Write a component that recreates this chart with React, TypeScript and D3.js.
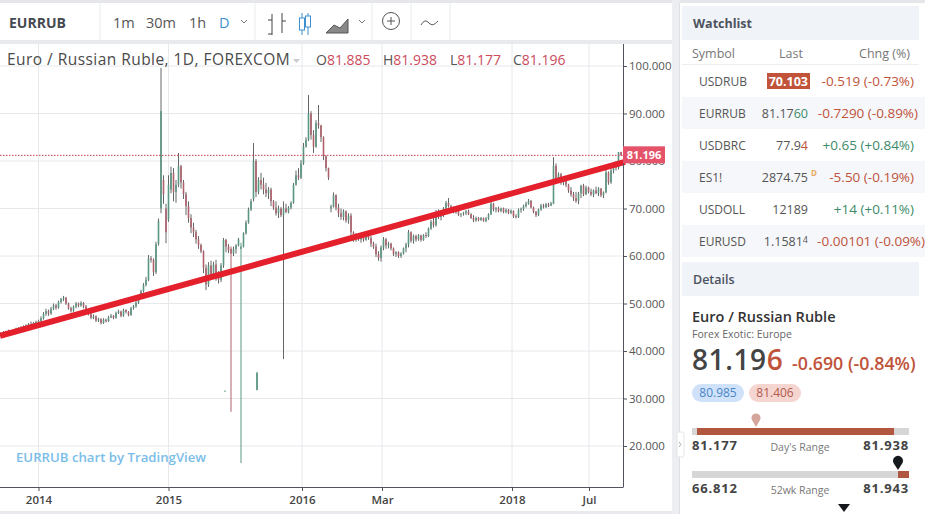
import React, { useEffect, useRef } from 'react';
import * as d3 from 'd3';

type Bar = [number, number, number, number]; // open, high, low, close

const bars2013: Bar[] = [
  [43.6,44.0,43.3,43.8],[43.8,44.2,43.5,43.6],[43.6,44.3,43.4,44.1],[44.1,44.5,43.8,44.0],[44.0,44.4,43.7,44.3],
  [44.3,44.6,43.9,44.2],[44.2,44.9,44.0,44.7],[44.7,45.0,44.3,44.5],[44.5,45.2,44.3,45.0],[45.0,45.4,44.6,44.8],
  [44.8,45.6,44.6,45.4],[45.4,45.9,45.1,45.7],[45.7,46.2,45.3,45.5],[45.5,46.1,45.2,45.9],[45.9,46.4,45.6,46.1],
];
const bars2014: Bar[] = [
  [46.1,46.6,45.8,46.3],[46.3,47.3,46.0,46.9],[46.9,48.2,46.6,47.8],[47.8,48.9,47.4,48.4],[48.4,48.7,47.4,47.9],
  [47.9,49.3,47.6,48.9],[48.9,50.0,48.6,49.6],[49.6,49.9,48.7,49.1],[49.1,50.6,48.9,50.3],[50.3,51.2,50.0,50.9],
  [50.9,51.6,50.5,51.2],[51.2,51.4,49.7,50.0],[50.0,50.2,48.7,49.0],[49.0,49.3,48.1,48.5],[48.5,49.6,48.2,49.3],
  [49.3,50.3,49.0,50.0],[50.0,50.2,49.2,49.6],[49.6,50.5,49.3,50.1],[50.1,50.3,49.0,49.4],[49.4,49.7,48.2,48.5],
  [48.5,48.7,47.5,47.9],[47.9,48.1,46.7,47.0],[47.0,47.7,46.7,47.3],[47.3,47.5,46.1,46.4],[46.4,47.0,46.1,46.7],
  [46.7,46.9,45.6,45.9],[45.9,46.9,45.7,46.6],[46.6,46.8,46.0,46.3],[46.3,47.4,46.1,47.1],[47.1,47.8,46.9,47.4],
  [47.4,47.6,46.7,47.0],[47.0,48.3,46.8,48.0],[48.0,48.7,47.8,48.3],[48.3,48.5,47.1,47.4],[47.4,48.9,47.2,48.6],
  [48.6,48.8,47.9,48.2],[48.2,48.4,47.3,47.6],[47.6,49.3,47.4,49.0],[49.0,49.7,48.7,49.4],[49.4,50.5,49.1,50.2],
  [50.2,51.7,49.9,51.4],[51.4,52.9,51.1,52.6],[52.6,54.3,52.3,53.9],[53.9,55.6,53.6,55.0],[55.0,60.2,54.7,59.5],
  [59.5,60.0,58.6,59.2],[59.2,59.5,55.8,56.6],[56.6,63.0,56.2,62.5],[62.5,67.9,62.2,67.4],[70.0,99.6,69.0,90.5],
  [76.0,77.0,71.0,73.0],[70.0,71.0,62.7,65.0],
];
const bars2015: Bar[] = [
  [67.6,77.0,67.2,75.0],[74.0,78.8,73.2,77.5],[77.5,78.5,71.5,73.5],[73.5,76.0,71.2,75.0],[75.0,81.7,74.5,78.9],
  [78.9,79.2,74.2,75.5],[75.5,76.0,72.0,73.0],[73.0,73.5,68.6,70.5],[70.5,71.5,67.0,68.0],[68.0,68.8,64.8,66.0],
  [66.0,67.0,64.0,65.0],[65.0,65.5,62.6,63.5],[63.5,64.2,61.5,62.3],[62.3,62.6,60.6,61.0],[61.0,61.2,56.4,57.5],
  [57.5,58.2,52.8,54.0],[54.0,58.7,53.5,58.0],[58.0,59.0,55.0,56.0],[56.0,58.8,55.5,58.2],[58.2,59.2,54.8,55.5],
  [55.5,56.8,54.2,55.0],[55.0,58.5,54.5,58.0],[58.0,63.8,57.5,63.4],[63.4,63.6,60.8,62.0],[62.0,62.5,60.6,61.2],
  [61.5,62.0,27.2,60.5],[60.5,62.0,60.0,61.5],[61.5,62.5,60.5,62.2],[62.2,63.8,62.0,63.5],[61.5,62.8,16.4,62.0],
  [62.0,65.0,61.8,64.8],[64.8,67.5,64.5,67.0],[67.0,70.2,66.8,69.8],[69.8,72.0,69.5,71.5],[72.0,83.8,71.5,80.0],
  [80.0,80.4,72.4,73.5],[73.5,76.6,73.0,76.0],[76.0,77.5,74.0,75.0],[75.0,76.5,73.0,74.0],[74.0,75.4,72.4,73.2],
  [73.2,74.5,72.0,74.0],[74.0,74.4,70.5,71.5],[71.5,71.8,69.7,70.2],[70.2,71.5,68.5,69.0],[69.0,70.6,68.0,70.0],
  [70.0,70.3,68.2,68.6],[68.6,71.5,38.3,70.0],[70.0,71.0,69.0,69.3],[69.3,70.5,69.0,70.2],[70.2,71.5,69.8,71.2],
  [71.2,75.4,71.0,75.0],[75.0,78.0,74.8,77.0],[77.0,78.5,76.0,76.5],[76.5,80.2,76.2,79.5],
];
const bars2016: Bar[] = [
  [79.5,83.8,79.2,83.0],[83.0,85.0,82.8,84.5],[84.5,93.9,84.2,90.0],[90.0,90.5,84.5,85.5],[85.5,86.5,81.7,83.0],
  [83.0,88.6,82.8,88.0],[88.0,91.8,86.8,87.5],[87.5,87.6,84.0,85.0],[85.0,85.2,80.2,81.0],[81.0,81.2,77.8,78.5],
  [78.5,78.6,76.0,76.5],[70.0,70.8,69.2,70.4],[70.4,73.4,70.2,72.8],[72.8,73.0,69.6,70.2],[70.2,71.0,68.2,69.0],
  [69.0,70.0,67.6,68.2],[68.2,69.8,67.5,69.4],[69.4,69.6,67.0,67.5],[67.5,69.0,66.8,68.5],[68.5,69.0,64.0,65.0],
  [65.0,65.2,63.0,63.6],[63.6,64.8,63.0,64.2],[64.2,64.5,63.2,63.5],[63.5,64.6,62.8,64.0],[64.0,64.5,63.0,63.4],
  [63.4,64.8,63.2,64.5],[64.5,64.9,63.4,63.8],[63.8,64.2,61.9,62.6],[62.6,63.0,61.5,62.0],[62.0,62.6,59.8,60.4],
  [60.4,61.0,59.0,59.6],[59.6,62.2,58.8,61.8],
];
const bars2017: Bar[] = [
  [61.8,64.0,61.2,63.5],[63.5,63.8,61.5,62.2],[62.2,63.0,61.6,62.6],[62.6,62.8,61.2,61.6],[61.6,61.8,60.0,60.4],
  [60.4,61.0,59.8,60.8],[60.8,61.0,59.6,60.0],[60.0,60.8,59.6,60.5],[60.5,61.8,60.3,61.6],[61.6,62.8,60.8,62.4],
  [62.4,65.5,61.8,65.0],[65.0,65.2,62.8,63.2],[63.2,64.5,62.6,64.2],[64.2,64.5,63.0,63.5],[63.5,64.6,63.2,64.3],
  [64.3,64.5,63.0,63.4],[63.4,64.6,63.2,64.4],[64.4,65.0,63.8,64.2],[64.2,66.0,64.0,65.8],[65.8,67.6,65.5,67.2],
  [67.2,68.4,66.0,66.5],[66.5,69.7,66.2,69.2],[69.2,69.8,67.8,68.2],[68.2,69.6,67.5,69.3],[69.3,70.3,68.2,70.0],
  [70.0,71.6,69.6,71.2],[71.2,72.2,70.2,70.5],[70.5,70.8,69.8,70.1],[70.1,70.4,69.0,69.2],[69.2,70.0,68.9,69.8],
  [69.8,70.0,68.4,68.7],[68.7,69.0,68.2,68.9],[68.9,69.3,68.5,69.1],[69.1,69.7,68.6,69.4],[69.4,69.8,68.6,68.8],
  [68.8,69.0,67.8,68.0],[68.0,68.6,67.1,67.5],[67.5,68.3,67.2,68.0],[68.0,68.2,67.3,67.6],[67.6,68.2,67.4,68.0],
  [68.0,68.1,67.2,67.4],[67.4,68.2,67.1,67.9],[67.9,69.0,67.6,68.8],[68.8,71.4,68.6,71.0],[71.0,71.2,69.4,69.8],
  [69.8,70.3,69.2,70.0],[70.0,70.4,69.2,69.5],[69.5,70.2,69.2,70.0],[70.0,70.2,69.0,69.3],[69.3,70.0,69.0,69.7],
  [69.7,69.9,68.8,69.1],[69.1,69.8,68.8,69.5],
];
const bars2018: Bar[] = [
  [69.5,69.6,68.0,68.4],[68.4,68.8,67.9,68.2],[68.2,70.0,68.0,69.7],[69.7,70.2,69.1,69.9],[69.9,70.8,69.5,70.5],
  [70.5,71.4,70.2,71.0],[71.0,72.0,70.8,71.6],[71.6,71.8,70.0,70.2],[70.2,70.4,69.0,69.3],[69.3,69.5,68.2,68.6],
  [68.6,70.0,68.4,69.8],[69.8,71.0,69.5,70.6],[70.6,71.0,70.0,70.3],[70.3,71.2,70.1,70.9],[70.9,71.2,70.3,70.6],
  [70.6,71.4,70.5,71.1],[71.0,80.8,70.9,79.0],[79.0,79.5,75.2,76.0],[76.0,77.6,75.5,77.2],[77.2,77.5,75.0,75.5],
  [75.5,76.8,74.9,76.4],[76.4,76.6,74.5,75.0],[75.0,75.2,73.3,73.8],[73.8,74.5,72.5,73.0],[73.0,73.5,71.6,72.2],
  [72.2,73.5,71.2,71.6],[71.6,73.5,70.9,73.2],[73.2,75.0,72.2,74.8],[74.8,75.2,72.6,73.0],[73.0,74.8,72.8,74.4],
  [74.4,74.6,73.2,73.5],[73.5,74.2,72.6,73.0],[73.0,74.0,72.4,73.8],[73.8,74.6,73.0,73.2],[73.2,74.5,72.6,74.2],
  [74.2,74.3,72.4,72.8],[72.8,73.6,72.2,73.4],[73.4,78.1,73.2,77.6],[77.6,77.8,75.0,75.5],[75.5,78.4,75.2,78.0],
  [78.0,79.8,77.4,79.2],[79.2,80.0,78.0,78.6],[78.6,81.9,78.2,81.9],[81.885,81.938,81.177,81.196],
];
const strayBarIndex = [89.6, 102.4];
const strayBars: Bar[] = [[31.6,31.7,31.5,31.6],[31.8,35.6,31.7,35.4]];
const colouredWickIndex = [92, 96];

const priceTicks = [100, 90, 80, 70, 60, 50, 40, 30, 20];
const timeTickIndex = [15, 67, 120.4, 152.4, 204.4, 235.2];
const timeTickLabels = ['2014', '2015', '2016', 'Mar', '2018', 'Jul'];
const trendIndex = [-0.4, 249.6];
const trendPrice = [43.2, 79.8];
const lastPrice = 81.196;

const watchSymbols = ['USDRUB', 'EURRUB', 'USDBRC', 'ES1!', 'USDOLL', 'EURUSD'];
const watchLast = ['70.103', '81.17', '77.9', '2874.75', '12189', '1.1581'];
const watchLastTail = ['', '60', '4', '', '', '4'];
const watchChange = ['-0.519 (-0.73%)', '-0.7290 (-0.89%)', '+0.65 (+0.84%)', '-5.50 (-0.19%)', '+14 (+0.11%)', '-0.00101 (-0.09%)'];
const ohlcLetters = ['O', 'H', 'L', 'C'];
const ohlcValues = ['81.885', '81.938', '81.177', '81.196'];
const intervals = ['1m', '30m', '1h', 'D'];

const FONT = '"Open Sans", "Noto Sans", sans-serif';
const UP = '#5a9682';
const DOWN = '#b0606c';
const WICK = '#636866';
const RED = '#c0533a';
const GREEN = '#3d8a68';

const bars = [...bars2013, ...bars2014, ...bars2015, ...bars2016, ...bars2017, ...bars2018];

const x = d3.scaleLinear().domain([0, 248]).range([1, 621]);
const y = d3.scaleLinear().domain([20, 100]).range([446, 66]);

const App: React.FC = () => {
  const plotRef = useRef<SVGGElement>(null);

  useEffect(() => {
    if (!plotRef.current) return;
    const g = d3.select(plotRef.current);
    g.selectAll('*').remove();

    // grid
    g.append('g').selectAll('line').data(priceTicks).join('line')
      .attr('x1', 0).attr('x2', 623)
      .attr('y1', d => y(d)).attr('y2', d => y(d))
      .attr('stroke', '#e6e8ec');
    g.append('g').selectAll('line').data(timeTickIndex).join('line')
      .attr('x1', d => x(d)).attr('x2', d => x(d))
      .attr('y1', 44).attr('y2', 487)
      .attr('stroke', '#e6e8ec');

    // candles
    const all = [
      ...bars.map((b, i) => ({ i, b })),
      ...strayBars.map((b, k) => ({ i: strayBarIndex[k], b })),
    ];
    const candle = g.append('g').selectAll('g').data(all).join('g');
    candle.append('line')
      .attr('x1', d => x(d.i)).attr('x2', d => x(d.i))
      .attr('y1', d => y(d.b[1])).attr('y2', d => y(d.b[2]))
      .attr('stroke', d => {
        if (colouredWickIndex.includes(d.i)) return d.b[3] >= d.b[0] ? UP : DOWN;
        if (strayBarIndex.includes(d.i)) return UP;
        return WICK;
      })
      .attr('stroke-width', 1);
    candle.append('rect')
      .attr('x', d => x(d.i) - 0.8).attr('width', 1.6)
      .attr('y', d => y(Math.max(d.b[0], d.b[3])))
      .attr('height', d => Math.max(0.6, Math.abs(y(d.b[0]) - y(d.b[3]))))
      .attr('fill', d => (d.b[3] >= d.b[0] ? UP : DOWN));

    // last price line
    g.append('line')
      .attr('x1', 0).attr('x2', 623)
      .attr('y1', y(lastPrice)).attr('y2', y(lastPrice))
      .attr('stroke', '#c93a52').attr('stroke-dasharray', '1.5,1.5');

    // trend line
    const trend = d3.line<number>().x(d => x(d)).y((_, i) => y(trendPrice[i]));
    g.append('path')
      .attr('d', trend(trendIndex))
      .attr('stroke', '#e4202c').attr('stroke-width', 6).attr('fill', 'none');

    // axes
    const yAxis = d3.axisRight(y).tickValues(priceTicks).tickFormat(d => d3.format('.3f')(d as number)).tickSize(4).tickPadding(2);
    const ya = g.append('g').attr('transform', 'translate(623,0)').call(yAxis);
    ya.select('.domain').remove();
    ya.selectAll('text').attr('font-size', 11.5).attr('fill', '#555').attr('font-family', FONT);
    ya.selectAll('line').attr('stroke', '#50535e');
    g.append('line').attr('x1', 623.5).attr('x2', 623.5).attr('y1', 44).attr('y2', 487).attr('stroke', '#50535e');

    const xAxis = d3.axisBottom(x).tickValues(timeTickIndex)
      .tickFormat((_, i) => timeTickLabels[i]).tickSize(4).tickPadding(5);
    const xa = g.append('g').attr('transform', 'translate(0,487)').call(xAxis);
    xa.select('.domain').remove();
    xa.selectAll('text').attr('font-size', 11.5).attr('font-weight', 600).attr('fill', '#444').attr('font-family', FONT);
    xa.selectAll('line').attr('stroke', '#50535e');
    g.append('line').attr('x1', 0).attr('x2', 623.5).attr('y1', 487.5).attr('y2', 487.5).attr('stroke', '#50535e');

    // price tag
    g.append('rect').attr('x', 623).attr('y', y(lastPrice) - 9).attr('width', 42).attr('height', 17).attr('fill', '#e5536a');
    g.append('text').attr('x', 644).attr('y', y(lastPrice) + 3.5).attr('text-anchor', 'middle')
      .attr('fill', '#fff').attr('font-size', 11).attr('font-weight', 700).attr('font-family', FONT)
      .text(lastPrice.toFixed(3));
  }, []);

  return (
    <svg width={925} height={514} style={{ position: 'absolute', left: 0, top: 0 }} fontFamily={FONT}>
      <rect width={925} height={514} fill="#fff" />
      {/* page frame */}
      <rect x={0} y={0} width={925} height={3} fill="#e4e6ea" />
      <rect x={0} y={40} width={673} height={4} fill="#e8eaee" />
      <rect x={0} y={511} width={673} height={3} fill="#e8eaee" />
      <rect x={672} y={0} width={8} height={514} fill="#eceef1" />

      {/* toolbar */}
      <text x={9} y={28} fontSize={14} fontWeight={700} fill="#454a52">EURRUB</text>
      {[100, 255, 372, 411, 450].map(d => <line key={d} x1={d} x2={d} y1={3} y2={40} stroke="#e8eaee" />)}
      {intervals.map((t, i) => (
        <text key={t} x={[113, 146, 189, 219][i]} y={28} fontSize={14.5} fill={t === 'D' ? '#3d8fcf' : '#555'}>{t}</text>
      ))}
      <path d="M241 20l3 3 3-3M359 20l3 3 3-3" fill="none" stroke="#777" />
      <path d="M272 14v21M268 34h4M282 13v20M282 21h4M272 20h-4" fill="none" stroke="#444" />
      <path d="M302 13v22M308 13v22" stroke="#3d8fcf" />
      <rect x={299.5} y={18} width={5} height={12} fill="#fff" stroke="#3d8fcf" />
      <rect x={305.5} y={16} width={5} height={11} fill="#fff" stroke="#3d8fcf" />
      <path d="M326 33l8-8 6 3 8-9v14z" fill="#888" stroke="#555" />
      <circle cx={391} cy={21} r={8.5} fill="none" stroke="#555" />
      <path d="M387 21h8M391 17v8" stroke="#555" />
      <path d="M421 25c3-5 5-5 8-2s5 2 9-2" fill="none" stroke="#555" />

      {/* chart */}
      <g ref={plotRef} />
      <text x={7} y={65} fontSize={15.5} letterSpacing={0.45} fill="#4a4a4a">Euro / Russian Ruble, 1D, FOREXCOM</text>
      <path d="M293 59h7l-3.5 4z" fill="#c8cbd0" />
      {ohlcLetters.map((l, i) => (
        <text key={l} x={[316, 383, 450, 513][i]} y={65} fontSize={14} fill="#555">
          {l}<tspan fill="#cc4b5c">{ohlcValues[i]}</tspan>
        </text>
      ))}
      <text x={16} y={462} fontSize={13.2} fontWeight={600} fill="#7abde8">EURRUB chart by TradingView</text>

      {/* watchlist */}
      <line x1={679.5} x2={679.5} y1={3} y2={514} stroke="#dcdfe3" />
      <rect x={682} y={6} width={237} height={34} fill="#f0f3f7" />
      <text x={693} y={28} fontSize={12.5} fontWeight={700} fill="#4c525e">Watchlist</text>
      <text x={692} y={58} fontSize={12.5} fill="#777">Symbol</text>
      <text x={791} y={58} fontSize={12.5} fill="#777" textAnchor="middle">Last</text>
      <text x={910} y={58} fontSize={12.5} fill="#777" textAnchor="end">Chng (%)</text>
      <line x1={682} x2={919} y1={64.5} y2={64.5} stroke="#eceef1" />
      {watchSymbols.map((s, i) => {
        const cy = 81 + i * 32;
        const change = watchChange[i];
        return (
          <g key={s}>
            {i % 2 === 1 && <rect x={682} y={cy - 16} width={243} height={32} fill="#f5f7fa" />}
            <text x={699} y={cy + 5} fontSize={12} fill="#555">{s}</text>
            {i === 0 && <rect x={767} y={73} width={43} height={16} fill={RED} />}
            <text x={808} y={cy + 5} fontSize={12.5} textAnchor="end" fill={i === 0 ? '#fff' : '#555'} fontWeight={i === 0 ? 700 : 400}>
              {watchLast[i]}
              <tspan fill={i === 1 ? GREEN : i === 2 ? RED : '#555'} fontSize={i === 5 ? 9 : 12.5} dy={i === 5 ? -3 : 0}>{watchLastTail[i]}</tspan>
            </text>
            {i === 3 && <text x={811} y={cy - 1} fontSize={8} fill="#e8a860" fontWeight={700}>D</text>}
            <text x={i === 1 ? 918 : i === 5 ? 925 : 914} y={cy + 5} fontSize={13.5} textAnchor="end" fill={change[0] === '+' ? GREEN : RED}>{change}</text>
          </g>
        );
      })}

      {/* details */}
      <rect x={682} y={262} width={237} height={34} fill="#f0f3f7" />
      <text x={693} y={284} fontSize={12.5} fontWeight={600} fill="#4c525e">Details</text>
      <text x={692} y={322} fontSize={14.5} fontWeight={600} fill="#333">Euro / Russian Ruble</text>
      <text x={692} y={338} fontSize={10.5} fill="#666">Forex Exotic: Europe</text>
      <text x={692} y={370} fontSize={28} fontWeight={600} fill="#444" letterSpacing={0.6}>81.19<tspan fill={RED}>6</tspan></text>
      <text x={792} y={370} fontSize={17.8} fontWeight={600} fill={RED}>-0.690 (-0.84%)</text>
      <rect x={692} y={384} width={52} height={18} rx={9} fill="#cfe2f9" />
      <text x={718} y={397} fontSize={12} textAnchor="middle" fill="#4a86c8">80.985</text>
      <rect x={749} y={384} width={52} height={18} rx={9} fill="#f5d5d0" />
      <text x={775} y={397} fontSize={12} textAnchor="middle" fill="#b35a4d">81.406</text>

      <path d="M756 427l-4-7a4.5 4.5 0 1 1 8 0z" fill="#d4a59a" />
      <rect x={692} y={428} width={217} height={7} fill="#d6d6d6" />
      <rect x={697} y={428} width={197} height={7} fill="#b2573f" />
      <text x={692} y={450} fontSize={13} fontWeight={700} fill="#444" letterSpacing={0.8}>81.177</text>
      <text x={800} y={451} fontSize={10.5} textAnchor="middle" fill="#777">Day's Range</text>
      <text x={909} y={450} fontSize={13} fontWeight={700} fill="#444" textAnchor="end" letterSpacing={0.8}>81.938</text>

      <path d="M898 470l-4.5-7a5 5 0 1 1 9 0z" fill="#15181d" />
      <rect x={692} y={471} width={206} height={7} fill="#d6d6d6" />
      <rect x={898} y={471} width={11} height={7} fill="#b2573f" />
      <text x={692} y={493} fontSize={13} fontWeight={700} fill="#444" letterSpacing={0.8}>66.812</text>
      <text x={800} y={494} fontSize={10.5} textAnchor="middle" fill="#777">52wk Range</text>
      <text x={909} y={493} fontSize={13} fontWeight={700} fill="#444" textAnchor="end" letterSpacing={0.8}>81.943</text>
      <path d="M838 504h12l-6 8z" fill="#15181d" />

      {/* collapse handle */}
      <rect x={677} y={432} width={7} height={25} rx={2} fill="#fff" stroke="#e4e6ea" />
      <path d="M679 442l2 2.5-2 2.5" fill="none" stroke="#aaa" />
    </svg>
  );
};

export default App;
